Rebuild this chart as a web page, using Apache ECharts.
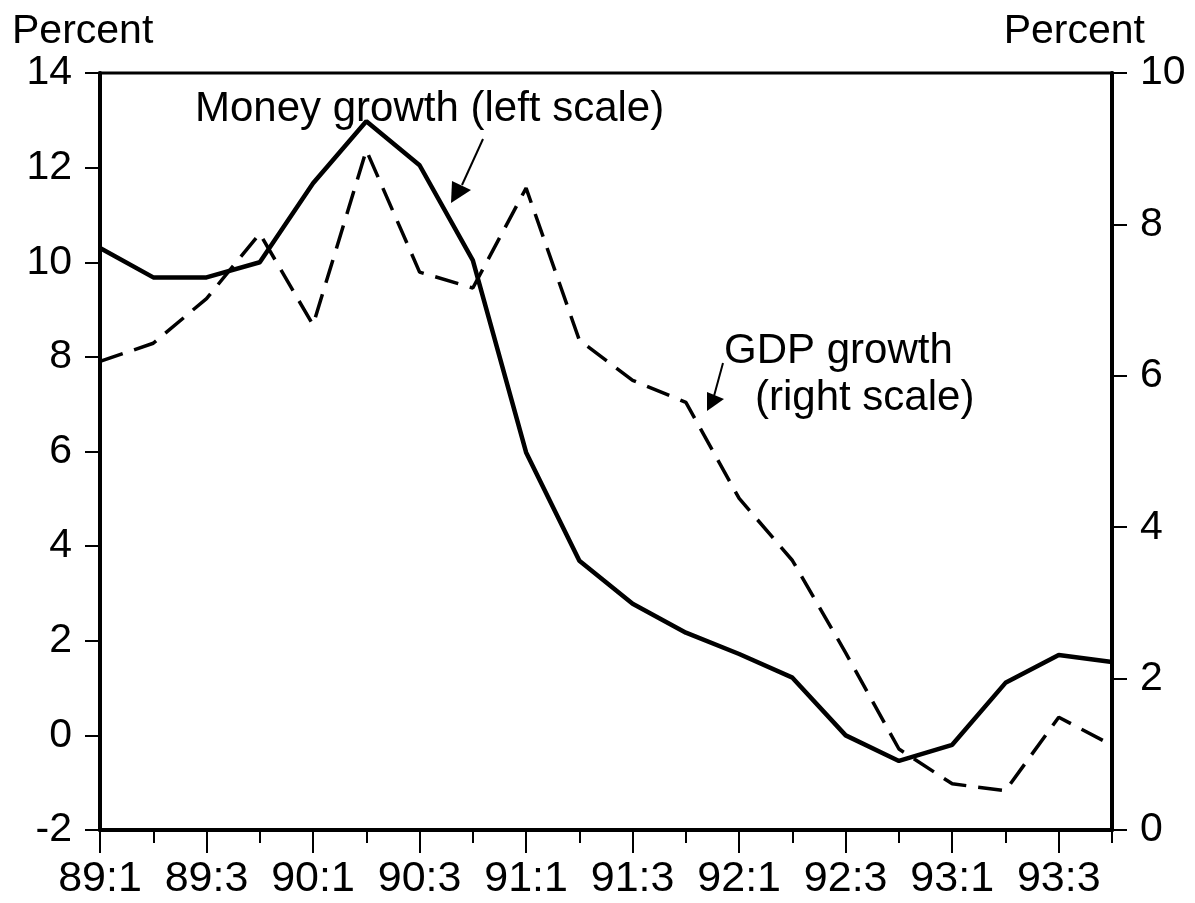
<!DOCTYPE html>
<html>
<head>
<meta charset="utf-8">
<script src="https://cdn.jsdelivr.net/npm/echarts@6/dist/echarts.min.js"></script>
<style>
  html, body { margin: 0; padding: 0; background: #fff; }
  #chart { width: 1195px; height: 903px; }
</style>
</head>
<body>
<div id="chart"></div>
<script>
// quarters 89:1 .. 93:4
var quarters = ['89:1', '89:2', '89:3', '89:4', '90:1', '90:2', '90:3', '90:4',
  '91:1', '91:2', '91:3', '91:4', '92:1', '92:2', '92:3', '92:4',
  '93:1', '93:2', '93:3', '93:4'];

// money growth, left scale (percent)
var moneyGrowth = [10.3, 9.68, 9.68, 10.0, 11.67, 12.98, 12.05, 10.04,
  5.98, 3.69, 2.78, 2.17, 1.72, 1.22, 0.0, -0.54,
  -0.2, 1.11, 1.7, 1.55];

// GDP growth, right scale (percent)
var gdpGrowth = [6.19, 6.43, 7.02, 7.88, 6.67, 8.98, 7.37, 7.16,
  8.48, 6.47, 5.94, 5.65, 4.38, 3.56, 2.34, 1.07,
  0.61, 0.52, 1.49, 1.12];

var leftTicks = { min: -2, max: 14, step: 2 };
var rightTicks = { min: 0, max: 10, step: 2 };

(function() {
  var font = '"Liberation Sans", Arial, Helvetica, sans-serif';
  var ink = '#000';
  var chart = echarts.init(document.getElementById('chart'), null, { renderer: 'canvas' });

  function valueAxis(pos, t) {
    return {
      type: 'value',
      position: pos,
      min: t.min, max: t.max, interval: t.step,
      axisLine: { show: true, onZero: false, lineStyle: { color: ink, width: 4 } },
      axisTick: { show: true, inside: false, length: 15, lineStyle: { color: ink, width: 2 } },
      axisLabel: { color: ink, fontSize: 41, fontFamily: font, margin: 28 },
      splitLine: { show: false }
    };
  }

  chart.setOption({
    animation: false,
    backgroundColor: '#fff',
    grid: { left: 100, right: 83, top: 73, bottom: 73, show: true, borderColor: ink, borderWidth: 3 },
    xAxis: [{
      type: 'category',
      data: quarters,
      boundaryGap: false,
      position: 'bottom',
      axisLine: { onZero: false, lineStyle: { color: ink, width: 4 } },
      axisTick: { interval: 1, length: 23, lineStyle: { color: ink, width: 2 } },
      axisLabel: { interval: 1, color: ink, fontSize: 43, fontFamily: font, margin: 28 },
      splitLine: { show: false }
    }, {
      type: 'category',
      data: quarters,
      boundaryGap: false,
      position: 'bottom',
      axisLine: { show: false, onZero: false },
      axisTick: { interval: 0, length: 13, lineStyle: { color: ink, width: 2 } },
      axisLabel: { show: false },
      splitLine: { show: false }
    }],
    yAxis: [valueAxis('left', leftTicks), valueAxis('right', rightTicks)],
    series: [{
      name: 'GDP growth',
      type: 'line',
      yAxisIndex: 1,
      data: gdpGrowth,
      symbol: 'none',
      lineStyle: { color: ink, width: 3.5, type: [24, 12] }
    }, {
      name: 'Money growth',
      type: 'line',
      yAxisIndex: 0,
      data: moneyGrowth,
      symbol: 'none',
      lineStyle: { color: ink, width: 4.5 }
    }],
    graphic: [
      { type: 'text', left: 12, top: 11, style: { text: 'Percent', fill: ink, font: '41px ' + font } },
      { type: 'text', right: 50, top: 11, style: { text: 'Percent', fill: ink, font: '41px ' + font } },
      { type: 'text', left: 195, top: 88, style: { text: 'Money growth (left scale)', fill: ink, font: '42px ' + font } },
      { type: 'text', left: 724, top: 330, style: { text: 'GDP growth', fill: ink, font: '42px ' + font } },
      { type: 'text', left: 755, top: 377, style: { text: '(right scale)', fill: ink, font: '42px ' + font } },
      { type: 'line', shape: { x1: 483, y1: 139, x2: 462, y2: 185 }, style: { stroke: ink, lineWidth: 2 } },
      { type: 'polygon', shape: { points: [[451, 203], [452, 181], [471, 190]] }, style: { fill: ink } },
      { type: 'line', shape: { x1: 723, y1: 363, x2: 714, y2: 396 }, style: { stroke: ink, lineWidth: 2 } },
      { type: 'polygon', shape: { points: [[707, 411], [707, 392], [724, 399]] }, style: { fill: ink } }
    ]
  });
  window.addEventListener('resize', function() { chart.resize(); });
})();
</script>
</body>
</html>
